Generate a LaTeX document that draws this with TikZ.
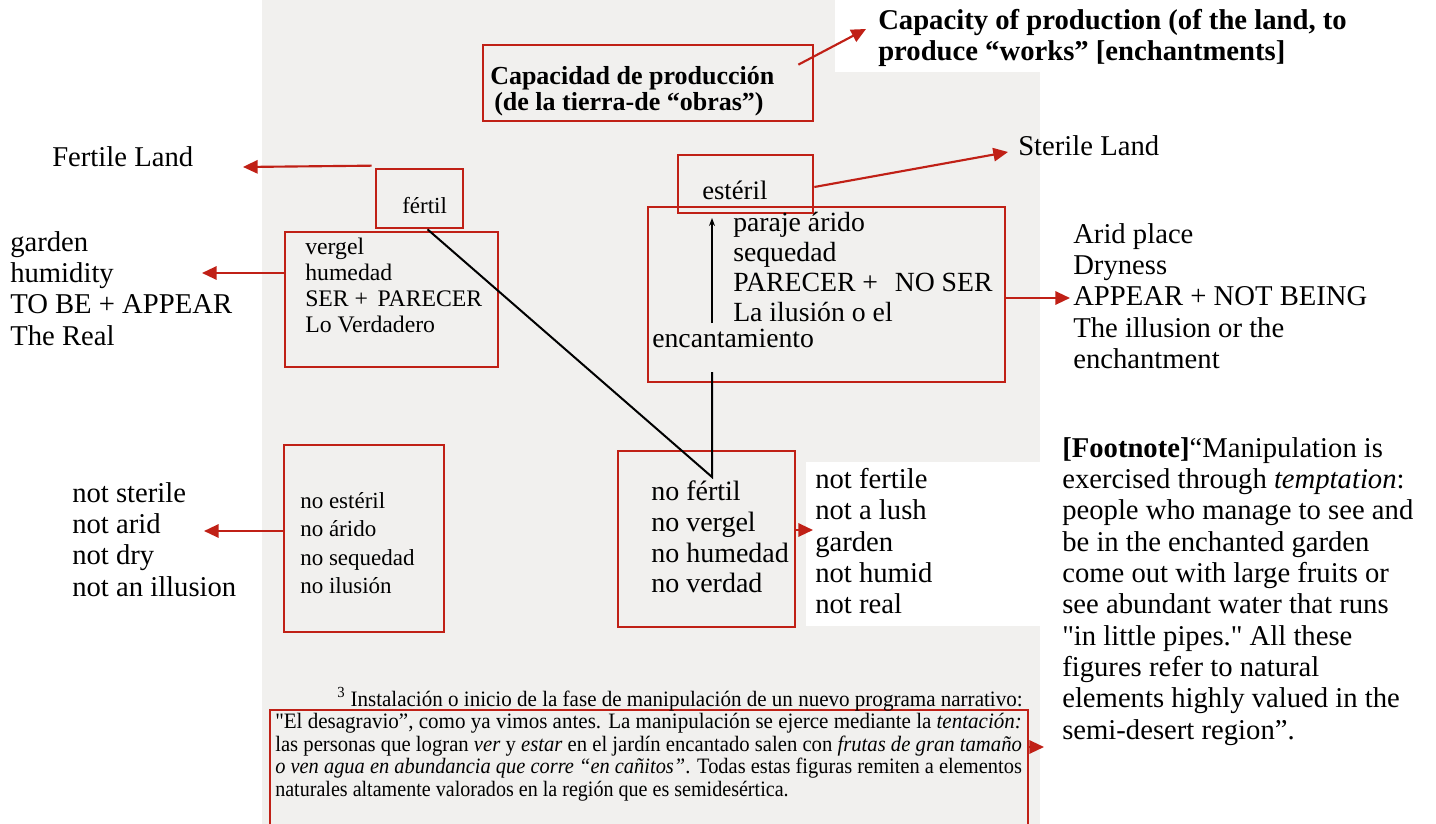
\documentclass[tikz,border=0pt]{standalone}
\usepackage{fontspec}
\setmainfont{Liberation Serif}
\usetikzlibrary{arrows.meta,fit}
\definecolor{boxred}{RGB}{192,32,22}
\definecolor{paper}{RGB}{241,240,238}
\newsavebox\fitbox
\newcommand\fitline[2]{\sbox\fitbox{#2}\pgfmathsetmacro\fitsx{#1/\wd\fitbox}\scalebox{\fitsx}[1]{\usebox\fitbox}}
\begin{document}
\begin{tikzpicture}[x=0.75pt,y=-0.75pt,
  redbox/.style={draw=boxred,line width=2pt,inner sep=0pt},
  redarrow/.style={draw=boxred,line width=1.6pt,-{Triangle[length=11pt,width=10pt]}},
  blk/.style={draw=black,line width=1.5pt},
  eng/.style={font=\fontsize{21.5pt}{23.5pt}\selectfont,align=left,anchor=north west,inner sep=0pt},
  bk/.style={align=left,anchor=north west,inner sep=0pt},
  one/.style={anchor=base west,inner sep=0pt}]
\useasboundingbox (0,0) rectangle (1436,824);
\fill[paper] (262,0) rectangle (1040,824);
\fill[white] (835,0) rectangle (1040,72);
\fill[white] (806,462) rectangle (1040,626);

% boxes
\node[redbox,fit={(483,45) (813,121)}] (tbox) {};
\node[redbox,fit={(376,169) (463,228)}] (fbox) {};
\node[redbox,fit={(285,232) (498,367)}] (vbox) {};
\node[redbox,fit={(678,155) (813,213)}] (sbox) {};
\node[redbox,fit={(648,207) (1005,382)}] (bbox) {};
\node[redbox,fit={(284,445) (444,632)}] (nebox) {};
\node[redbox,fit={(618,451) (795,627)}] (nfbox) {};
\draw[boxred,line width=2pt] (270,830) -- (270,710) -- (1028,710) -- (1028,830);
\coordinate (footR) at (1028,747);

% book texts
\node[one,font=\fontsize{19.5pt}{19pt}\selectfont\bfseries] (ttext) at (490,85) {Capacidad de producción};
\node[one,font=\fontsize{19.5pt}{19pt}\selectfont\bfseries] (ttext2) at (494,111) {(de la tierra-de “obras”)};
\node[one,font=\fontsize{17.25pt}{20pt}\selectfont] (ftext) at (402,213) {fértil};
\begin{scope}[every node/.style={one,font=\fontsize{17.8pt}{20pt}\selectfont}]
\node (v1) at (305,254) {vergel};
\node (v2) at (305,280) {humedad};
\node (v3) at (305,306) {SER +\hspace{0.4em}PARECER};
\node (v4) at (305,332) {Lo Verdadero};
\end{scope}
\node[one,font=\fontsize{20pt}{22pt}\selectfont] (stext) at (702,199) {estéril};
\node[bk,font=\fontsize{20.8pt}{22.5pt}\selectfont] (btext) at (733,212) {paraje árido\\sequedad\\PARECER +\hspace{0.6em}NO SER\\La ilusión o el};
\node[one,font=\fontsize{20.8pt}{22.5pt}\selectfont] (btext2) at (652,347) {encantamiento};
\node[bk,font=\fontsize{17.25pt}{21.4pt}\selectfont] (netext) at (300,492) {no estéril\\no árido\\no sequedad\\no ilusión};
\node[bk,font=\fontsize{21pt}{22.9pt}\selectfont] (nftext) at (651,481) {no fértil\\no vergel\\no humedad\\no verdad};

% footnote lines
\begin{scope}[every node/.style={one,font=\fontsize{16.5pt}{17pt}\selectfont}]
\node (fn0) at (337,706) {\fitline{514}{\textsuperscript{3} Instalación o inicio de la fase de manipulación de un nuevo programa narrativo:}};
\node (fn1) at (275,728) {\fitline{560}{\textquotedbl El desagravio”, como ya vimos antes. La manipulación se ejerce mediante la \textit{tentación:}}};
\node (fn2) at (275,751) {\fitline{560}{las personas que logran \textit{ver} y \textit{estar} en el jardín encantado salen con \textit{frutas de gran tamaño}}};
\node (fn3) at (275,773) {\fitline{560}{\textit{o ven agua en abundancia que corre “en cañitos”}. Todas estas figuras remiten a elementos}};
\node (fn4) at (275,796) {\fitline{385}{naturales altamente valorados en la región que es semidesértica.}};
\end{scope}

% black connectors
\coordinate (junc) at (712,477);
\coordinate (vtop) at (712,372);
\coordinate (ia1) at (712,323);
\coordinate (ia2) at (712,218);
\draw[blk] ([xshift=6pt]fbox.south) -- (junc) -- (vtop);
\draw[draw=black,line width=1.2pt,-{Stealth[length=6pt,width=4.5pt]}] (ia1) -- (ia2);

% English annotations
\node[eng,font=\fontsize{21.5pt}{23.5pt}\selectfont\bfseries] (capE) at (878,9) {Capacity of production (of the land, to\\produce “works” [enchantments]};
\node[eng] (fertE) at (52,146) {Fertile Land};
\node[eng] (sterE) at (1018,135) {Sterile Land};
\node[eng] (gardE) at (10,231) {garden\\humidity\\TO BE + APPEAR\\The Real};
\node[eng] (aridE) at (1073,223) {Arid place\\Dryness\\APPEAR + NOT BEING\\The illusion or the\\enchantment};
\node[eng] (nsE) at (72,482) {not sterile\\not arid\\not dry\\not an illusion};
\node[eng] (nfE) at (815,468) {not fertile\\not a lush\\garden\\not humid\\not real};
\node[eng] (footE) at (1062,437) {\textbf{[Footnote]}“Manipulation is\\exercised through \textit{temptation}:\\people who manage to see and\\be in the enchanted garden\\come out with large fruits or\\see abundant water that runs\\\textquotedbl in little pipes.\textquotedbl\ All these\\figures refer to natural\\elements highly valued in the\\semi-desert region”.};

% red arrows
\coordinate (tipCap) at (866,29);
\coordinate (tipF) at (243,167);
\coordinate (tipG) at (202,273);
\coordinate (tipS) at (1008,152);
\coordinate (tipA) at (1070,298);
\coordinate (tipNE) at (204,531);
\coordinate (tipNF) at (813,530);
\coordinate (tipFN) at (1044,747);
\draw[redarrow] ([shift={(-16,21)}]tbox.north east) -- (tipCap);
\draw[redarrow] ([shift={(-3,-2)}]fbox.north west) -- (tipF);
\draw[redarrow] (vbox.west |- tipG) -- (tipG);
\draw[redarrow] ([shift={(0,3)}]sbox.east) -- (tipS);
\draw[redarrow] (bbox.east |- tipA) -- (tipA);
\draw[redarrow] (nebox.west |- tipNE) -- (tipNE);
\draw[redarrow] (nfbox.east |- tipNF) -- (tipNF);
\draw[redarrow] (footR) -- (tipFN);
\end{tikzpicture}
\end{document}
